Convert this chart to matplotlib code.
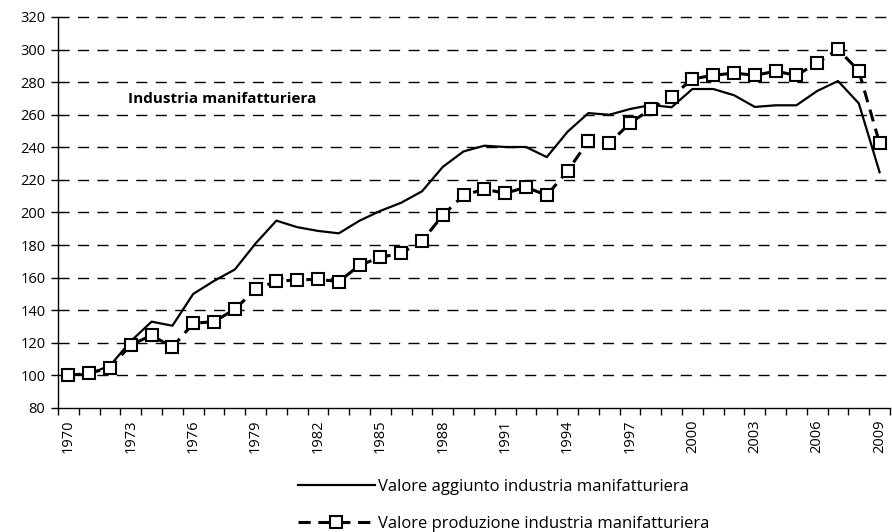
import matplotlib
matplotlib.use("Agg")
import matplotlib.pyplot as plt
from matplotlib.lines import Line2D
import numpy as np

years = list(range(1970, 2010))
valore_aggiunto = [100, 101, 106, 121, 133, 130.5, 150, 158, 165, 181, 195, 191,
                   188.7, 187.2, 195, 201, 206, 213, 228, 237.5, 241, 240.2, 240.2, 234,
                   249.6, 261, 260, 263.5, 266, 264.6, 275.8, 275.8, 272, 264.8, 265.8, 265.8,
                   274.6, 280.7, 267, 224.7]
valore_produzione = [100, 101.3, 104.7, 118.7, 124.6, 117.3, 132, 133, 140.6, 152.9, 157.8, 158.6,
                     159, 157.6, 167.6, 172.5, 175, 182.5, 198.3, 210.6, 214.3, 211.8, 215.5, 210.6,
                     225.5, 243.9, 242.5, 254.8, 263.5, 271.1, 282, 284.2, 285.6, 284.2, 286.7, 284.2,
                     291.8, 300.2, 286.9, 242.5]
tick_years = list(range(1970, 2010, 3))
y_ticks = list(range(80, 321, 20))
title_text = "Industria manifatturiera"
label_a = "Valore aggiunto industria manifatturiera"
label_p = "Valore produzione industria manifatturiera"

plt.rcParams['font.family'] = ['Open Sans', 'DejaVu Sans']

fig = plt.figure(figsize=(8.92, 5.32), dpi=100)
ax = fig.add_axes([58/892, 1 - 408/532, 832/892, 391/532])

x = np.arange(len(years))
ax.plot(x, valore_aggiunto, color='black', lw=1.6, solid_joinstyle='round', zorder=3)
ax.plot(x, valore_produzione, color='black', lw=2.2, linestyle=(0, (4, 2.5)),
        marker='s', markersize=9, markerfacecolor='white', markeredgecolor='black',
        markeredgewidth=1.5, zorder=4)

ax.set_xlim(-0.5, len(years) - 0.5)
ax.set_ylim(80, 320)
ax.set_yticks(y_ticks)
ax.set_yticklabels([str(v) for v in y_ticks], fontsize=10.5)
ax.set_xticks([years.index(y) for y in tick_years])
ax.set_xticklabels([str(y) for y in tick_years], rotation=90, fontsize=10.5)
ax.set_xticks(np.arange(-0.5, len(years), 1.0), minor=True)
ax.tick_params(axis='x', which='major', length=0, pad=8)
ax.tick_params(axis='x', which='minor', length=5, width=1, direction='out')
ax.tick_params(axis='y', length=5, width=1, direction='out', pad=4)

for s in ['top', 'right']:
    ax.spines[s].set_visible(False)
ax.spines['left'].set_linewidth(1)
ax.spines['bottom'].set_linewidth(1)

for v in y_ticks[1:]:
    ax.axhline(v, color='black', lw=1, linestyle=(0, (8, 6)), zorder=1, clip_on=False)

ax.text(years.index(1973) - 0.15, 269.5, title_text, fontsize=11, fontweight='bold',
        va='center', ha='left', family=['Open Sans', 'DejaVu Sans'])

handles = [
    Line2D([], [], color='black', lw=1.6),
    Line2D([], [], color='black', lw=2.2, linestyle=(0, (4, 2.5)), marker='s',
           markersize=9, markerfacecolor='white', markeredgecolor='black', markeredgewidth=1.5),
]
leg = fig.legend(handles, [label_a, label_p], loc='upper left',
                 bbox_to_anchor=(283/892, 1 - 464/532), frameon=False,
                 handlelength=4.6, labelspacing=1.25, handletextpad=0.2,
                 prop={'family': ['Open Sans', 'DejaVu Sans'], 'size': 12})

fig.savefig('out.png', dpi=100)
